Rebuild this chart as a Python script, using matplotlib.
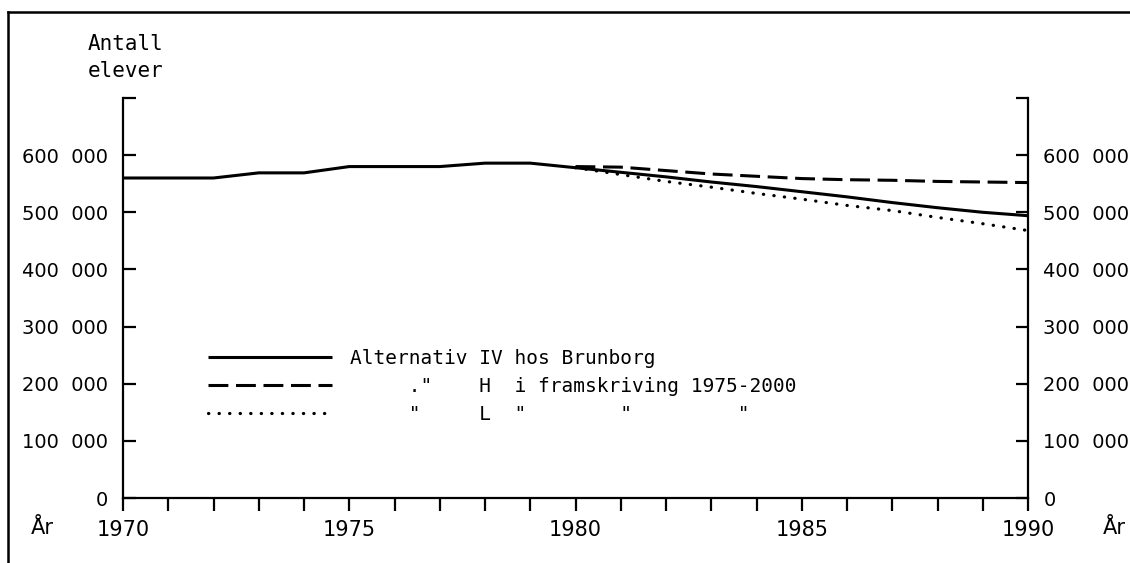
import matplotlib
matplotlib.use("Agg")
import matplotlib.pyplot as plt
from matplotlib.lines import Line2D

# data
aar = [1970, 1971, 1972, 1973, 1974, 1975, 1976, 1977, 1978, 1979,
       1980, 1981, 1982, 1983, 1984, 1985, 1986, 1987, 1988, 1989, 1990]
alt_iv = [560000, 560000, 560000, 569000, 569000, 580000, 580000, 580000, 586000, 586000,
          578000, 570000, 562000, 553000, 545000, 536000, 527000, 517000, 508000, 500000, 494000]
aar_fram = [1980, 1981, 1982, 1983, 1984, 1985, 1986, 1987, 1988, 1989, 1990]
alt_h = [580000, 579000, 573000, 567000, 563000, 559000, 557000, 556000, 554000, 553000, 552000]
alt_l = [578000, 566000, 554000, 544000, 533000, 523000, 512000, 503000, 491000, 480000, 468000]

y_ticks = [0, 100000, 200000, 300000, 400000, 500000, 600000, 700000]
# figure space between the groups, as wide as a digit
y_labels = ["0", "100\u2007000", "200\u2007000", "300\u2007000", "400\u2007000",
            "500\u2007000", "600\u2007000", ""]
x_labels = [str(a) if a % 5 == 0 else "" for a in aar]

labels = ["Alternativ IV hos Brunborg",
          '     ."    H  i framskriving 1975-2000',
          '     "     L  "        "         "']

mono = "DejaVu Sans Mono"
sans = "DejaVu Sans"

W, H = 1130, 563
fig = plt.figure(figsize=(W / 100, H / 100), dpi=100)
fig.patch.set_facecolor("white")

# axes box in pixels: x 123..1028, y 98..498
ax = fig.add_axes([123 / W, 1 - 498 / H, 905 / W, 400 / H])

l1, = ax.plot(aar, alt_iv, color="black", lw=2.2, solid_capstyle="butt")
l2, = ax.plot(aar_fram, alt_h, color="black", lw=2.2, linestyle=(0, (6.5, 2.5)))
l3, = ax.plot(aar_fram, alt_l, color="black", lw=2.3, linestyle=(0, (0.1, 3.2)),
              dash_capstyle="round")

ax.set_xlim(1970, 1990)
ax.set_ylim(0, 700000)

ax.spines["top"].set_visible(False)
for s in ["left", "right", "bottom"]:
    ax.spines[s].set_linewidth(1.6)

ax.set_yticks(y_ticks)
ax.set_yticklabels(y_labels, fontsize=14, family=sans)
ax.tick_params(axis="y", direction="in", length=9, width=1.6, pad=11,
               left=True, right=True, labelleft=True, labelright=True)

ax.set_xticks(aar)
ax.set_xticklabels(x_labels, fontsize=15, family=sans)
ax.tick_params(axis="x", direction="out", length=9, width=1.6, pad=7)

leg = ax.legend([l1, l2, l3], labels, loc="upper left",
                bbox_to_anchor=(85 / 905, (498 - 349) / 400),
                frameon=False, prop={"family": mono, "size": 14},
                handlelength=6.4, handletextpad=0.9, labelspacing=0.45,
                borderaxespad=0, borderpad=0)

fig.text(88 / W, 1 - 34 / H, "Antall\nelever", family=mono, fontsize=15,
         va="top", ha="left", linespacing=1.45)
fig.text(42 / W, 1 - 528 / H, "År", family=sans, fontsize=15, va="center", ha="center")
fig.text(1114 / W, 1 - 528 / H, "År", family=sans, fontsize=15, va="center", ha="center")

# frame round the figure (top and left edge visible in the scan)
fig.add_artist(Line2D([8 / W, 1], [1 - 12 / H, 1 - 12 / H], transform=fig.transFigure,
                      color="black", lw=1.8))
fig.add_artist(Line2D([8 / W, 8 / W], [0, 1 - 12 / H], transform=fig.transFigure,
                      color="black", lw=1.8))

fig.savefig("out.png", dpi=100)
